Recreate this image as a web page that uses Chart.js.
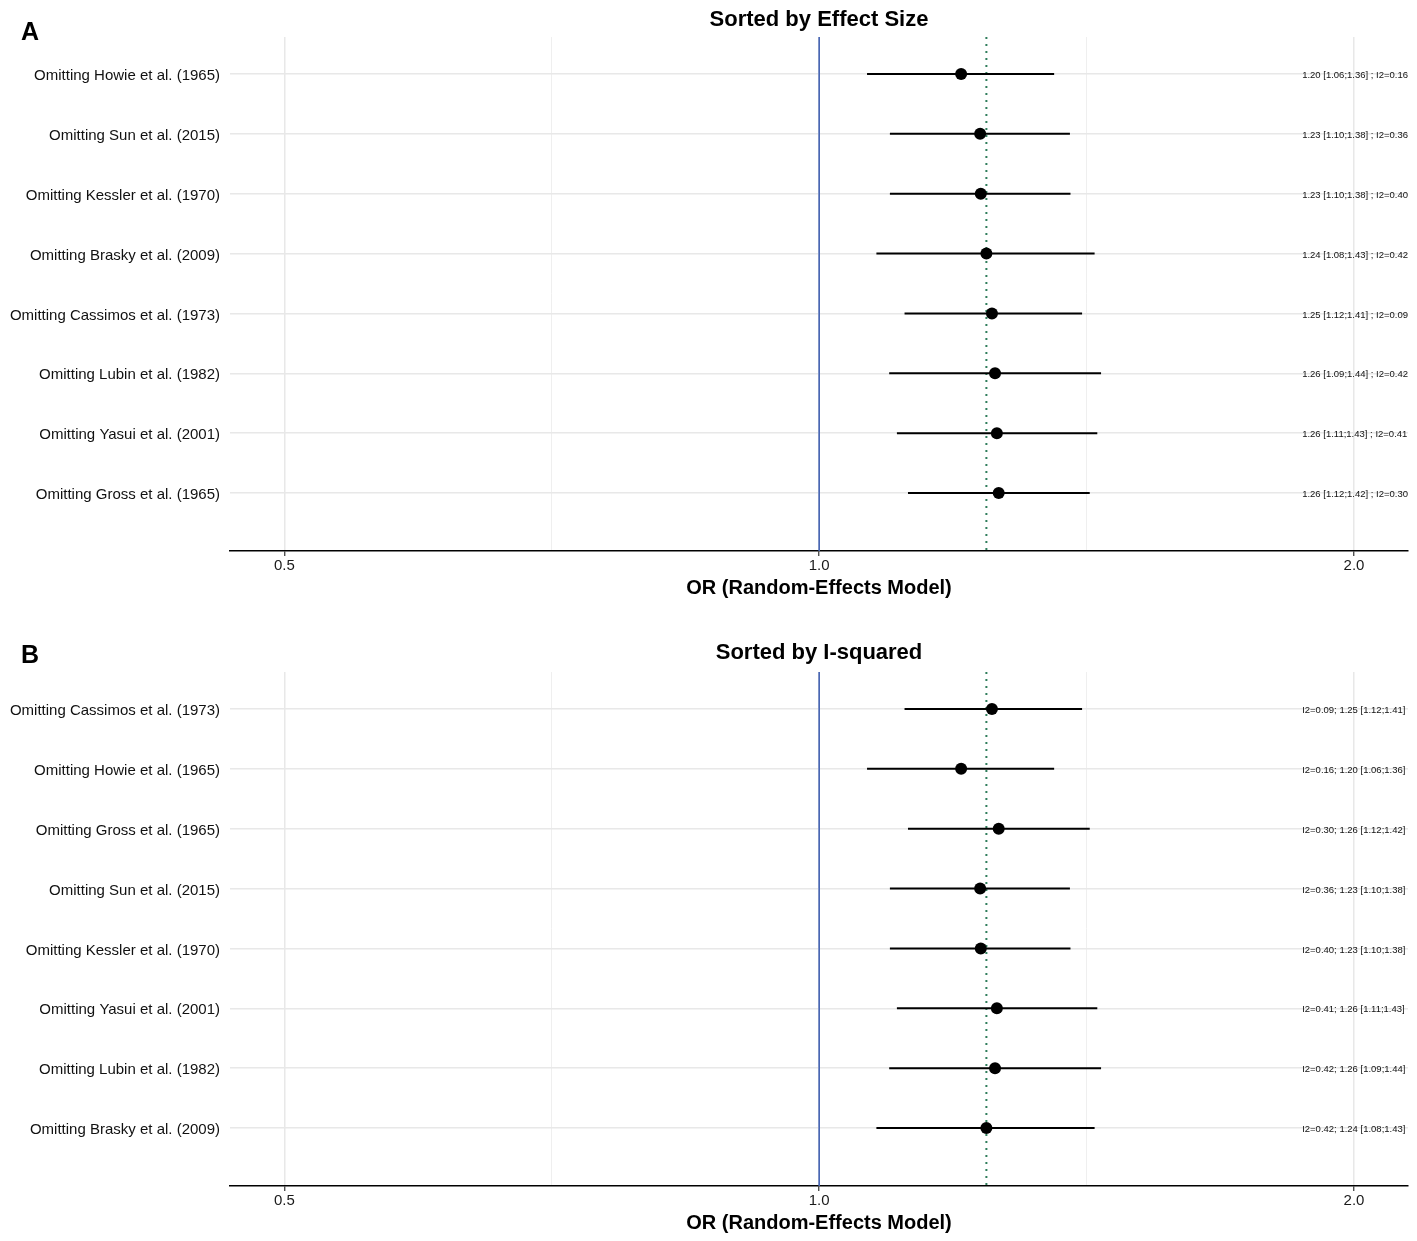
<!DOCTYPE html>
<html>
<head>
<meta charset="utf-8">
<title>Leave-one-out sensitivity analysis</title>
<script src="https://cdn.jsdelivr.net/npm/chart.js@4.4.1/dist/chart.umd.min.js"></script>
<style>
  html, body { margin: 0; padding: 0; background: #fff; }
  #page { position: relative; width: 1417px; height: 1241px; }
  .panel { position: absolute; left: 0; width: 1417px; height: 606px; }
  #panelA { top: 0; }
  #panelB { top: 635px; }
</style>
</head>
<body>
<div id="page">
  <div class="panel" id="panelA"><canvas id="chartA"></canvas></div>
  <div class="panel" id="panelB"><canvas id="chartB"></canvas></div>
</div>
<script>
const FONT = '"Liberation Sans", Arial, Helvetica, sans-serif';

// one entry per omitted study
const studies = [
  'Howie et al. (1965)',
  'Sun et al. (2015)',
  'Kessler et al. (1970)',
  'Brasky et al. (2009)',
  'Cassimos et al. (1973)',
  'Lubin et al. (1982)',
  'Yasui et al. (2001)',
  'Gross et al. (1965)',
];
const orEst  = [1.202, 1.232, 1.233, 1.242, 1.251, 1.256, 1.259, 1.262];
const ciLow  = [1.064, 1.096, 1.096, 1.077, 1.117, 1.095, 1.106, 1.122];
const ciHigh = [1.356, 1.384, 1.385, 1.429, 1.406, 1.441, 1.434, 1.420];
const i2     = [0.16, 0.36, 0.40, 0.42, 0.09, 0.42, 0.41, 0.30];
const orText = ['1.20', '1.23', '1.23', '1.24', '1.25', '1.26', '1.26', '1.26'];
const ciText = ['[1.06;1.36]', '[1.10;1.38]', '[1.10;1.38]', '[1.08;1.43]',
                '[1.12;1.41]', '[1.09;1.44]', '[1.11;1.43]', '[1.12;1.42]'];

// row order of each panel (indexes into the arrays above)
const orderEffect = [0, 1, 2, 3, 4, 5, 6, 7];
const orderI2     = [4, 0, 7, 1, 2, 6, 5, 3];

const pooledOR = 1.242;
const nullOR = 1.0;
const xTicksMajor = [0.5, 1.0, 2.0];
const xTicksMinor = [0.707, 1.414];
const xMin = 0.466;
const xMax = 2.145;
const annotX = 1.87;

const panelText = {
  id: 'panelText',
  afterDatasetsDraw(chart, args, opts) {
    const { ctx, chartArea, scales } = chart;
    ctx.save();
    ctx.fillStyle = '#000';
    ctx.textAlign = 'left';
    ctx.textBaseline = 'alphabetic';
    ctx.font = `bold 25px ${FONT}`;
    ctx.fillText(opts.letter, 21, opts.letterY);
    ctx.textAlign = 'center';
    ctx.font = `bold 22px ${FONT}`;
    ctx.fillText(opts.title, (chartArea.left + chartArea.right) / 2, opts.titleY);
    ctx.textAlign = 'left';
    ctx.textBaseline = 'middle';
    ctx.font = `9.5px ${FONT}`;
    ctx.fillStyle = '#111';
    const x = scales.x.getPixelForValue(annotX);
    opts.lines.forEach((t, i) => ctx.fillText(t, x, scales.y.getPixelForValue(i + 1) + 1.5));
    ctx.restore();
  },
};

function buildPanel(canvasId, letter, title, order, annot, letterY, titleY) {
  const yMin = 0.382;
  const yMax = 8.969;
  const rows = order.map((_, i) => i + 1);
  const labels = order.map((k) => 'Omitting ' + studies[k]);
  const isMajor = (v) => xTicksMajor.includes(v);

  const datasets = [];
  datasets.push({
    data: order.map((k, i) => ({ x: orEst[k], y: i + 1 })),
    pointRadius: 6,
    pointBackgroundColor: '#000',
    pointBorderWidth: 0,
    order: 0,
  });
  order.forEach((k, i) => {
    datasets.push({
      data: [{ x: ciLow[k], y: i + 1 }, { x: ciHigh[k], y: i + 1 }],
      showLine: true,
      borderColor: '#000',
      borderWidth: 2,
      pointRadius: 0,
      order: 1,
    });
  });
  datasets.push({
    data: [{ x: pooledOR, y: yMin }, { x: pooledOR, y: yMax }],
    showLine: true,
    borderColor: '#2f7d5b',
    borderWidth: 2,
    borderDash: [2, 5],
    pointRadius: 0,
    order: 2,
  });
  datasets.push({
    data: [{ x: nullOR, y: yMin }, { x: nullOR, y: yMax }],
    showLine: true,
    borderColor: '#4463b3',
    borderWidth: 1.6,
    pointRadius: 0,
    order: 3,
  });

  return new Chart(document.getElementById(canvasId), {
    type: 'scatter',
    data: { datasets },
    options: {
      responsive: true,
      maintainAspectRatio: false,
      animation: false,
      events: [],
      layout: { padding: { top: 37, right: 9, left: 0, bottom: 0 } },
      plugins: {
        legend: { display: false },
        tooltip: { enabled: false },
        panelText: { letter, title, lines: order.map(annot), letterY, titleY },
      },
      scales: {
        x: {
          type: 'logarithmic',
          min: xMin,
          max: xMax,
          afterBuildTicks: (s) => {
            s.ticks = xTicksMajor.concat(xTicksMinor).sort((a, b) => a - b).map((v) => ({ value: v }));
          },
          afterFit: (s) => { s.height = 55; },
          ticks: {
            autoSkip: false,
            maxRotation: 0,
            padding: 1,
            color: '#1a1a1a',
            font: { family: FONT, size: 15 },
            callback: (v) => (isMajor(v) ? v.toFixed(1) : ''),
          },
          grid: {
            color: (c) => (isMajor(c.tick.value) ? '#e8e8e8' : '#efefef'),
            lineWidth: (c) => (isMajor(c.tick.value) ? 1.5 : 1),
            tickLength: 5,
            tickWidth: 1.2,
            tickColor: (c) => (isMajor(c.tick.value) ? '#333' : 'rgba(0,0,0,0)'),
          },
          border: { display: true, color: '#000', width: 1.6 },
          title: {
            display: true,
            text: 'OR (Random-Effects Model)',
            color: '#000',
            font: { family: FONT, size: 20, weight: 'bold' },
            padding: { top: 0, bottom: 6 },
          },
        },
        y: {
          type: 'linear',
          reverse: true,
          min: yMin,
          max: yMax,
          afterBuildTicks: (s) => { s.ticks = rows.map((v) => ({ value: v })); },
          afterFit: (s) => { s.width = 230; },
          ticks: {
            autoSkip: false,
            padding: 10,
            labelOffset: 2,
            color: '#111',
            font: { family: FONT, size: 15 },
            callback: (v) => labels[v - 1] || '',
          },
          grid: { color: '#e8e8e8', lineWidth: 1.5, drawTicks: false },
          border: { display: false },
        },
      },
    },
    plugins: [panelText],
  });
}

buildPanel('chartA', 'A', 'Sorted by Effect Size', orderEffect,
  (k) => `${orText[k]} ${ciText[k]} ; I2=${i2[k].toFixed(2)}`, 40, 26);
buildPanel('chartB', 'B', 'Sorted by I-squared', orderI2,
  (k) => `I2=${i2[k].toFixed(2)}; ${orText[k]} ${ciText[k]}`, 28, 24);
</script>
</body>
</html>
